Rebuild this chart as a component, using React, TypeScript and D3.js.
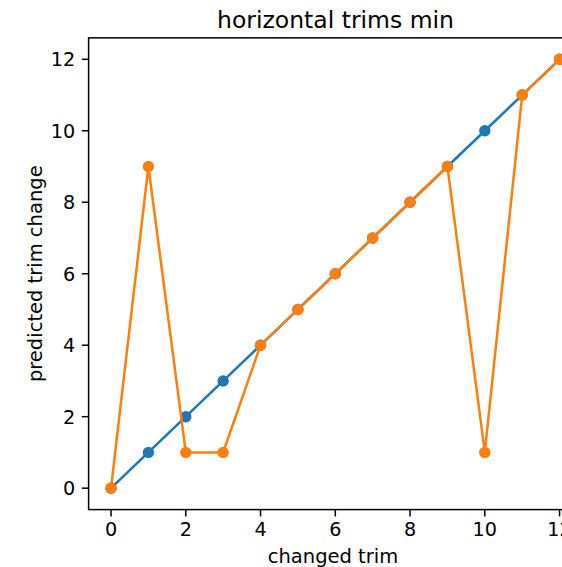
import React from "react";
import * as d3 from "d3";

const changedTrim = [0, 1, 2, 3, 4, 5, 6, 7, 8, 9, 10, 11, 12];
const idealValues = [0, 1, 2, 3, 4, 5, 6, 7, 8, 9, 10, 11, 12];
const predictedValues = [0, 9, 1, 1, 4, 5, 6, 7, 8, 9, 1, 11, 12];
const xTicks = [0, 2, 4, 6, 8, 10, 12];
const yTicks = [0, 2, 4, 6, 8, 10, 12];
const series = [
  { name: "ideal", values: idealValues, color: "#1f77b4" },
  { name: "predicted", values: predictedValues, color: "#ff7f0e" },
];

const W = 562;
const H = 567;
const left = 88.6;
const right = 582;
const top = 37.85;
const bottom = 509.6;

export default function App() {
  const x = d3.scaleLinear().domain([-0.6, 12.6]).range([left, right]);
  const y = d3.scaleLinear().domain([-0.6, 12.6]).range([bottom, top]);
  const line = d3
    .line<number>()
    .x((_, i) => x(changedTrim[i]))
    .y((d) => y(d));
  const font = "DejaVu Sans, sans-serif";
  const tickFs = 19.2;
  return (
    <svg
      width={W}
      height={H}
      style={{ position: "absolute", left: 0, top: 0, overflow: "hidden", background: "#fff" }}
      fontFamily={font}
    >
      <rect x={0} y={0} width={W} height={H} fill="#fff" />
      {series.map((s) => (
        <g key={s.name}>
          <path d={line(s.values) || ""} fill="none" stroke={s.color} strokeWidth={2.5} strokeLinejoin="round" />
          {s.values.map((v, i) => (
            <circle key={i} cx={x(changedTrim[i])} cy={y(v)} r={5.7} fill={s.color} />
          ))}
        </g>
      ))}
      <rect x={left} y={top} width={right - left} height={bottom - top} fill="none" stroke="#000" strokeWidth={1.5} />
      {xTicks.map((t) => (
        <g key={"x" + t}>
          <line x1={x(t)} x2={x(t)} y1={bottom} y2={bottom + 6.8} stroke="#000" strokeWidth={1.5} />
          <text x={x(t)} y={535.5} textAnchor="middle" fontSize={tickFs} fill="#000">
            {t}
          </text>
        </g>
      ))}
      {yTicks.map((t) => (
        <g key={"y" + t}>
          <line x1={left - 6.8} x2={left} y1={y(t)} y2={y(t)} stroke="#000" strokeWidth={1.5} />
          <text x={left - 13.4} y={y(t)} dy="0.36em" textAnchor="end" fontSize={tickFs} fill="#000">
            {t}
          </text>
        </g>
      ))}
      <text x={333} y={562.5} textAnchor="middle" fontSize={19.5} fill="#000">
        changed trim
      </text>
      <text
        transform={`translate(41.5, ${(top + bottom) / 2}) rotate(-90)`}
        textAnchor="middle"
        fontSize={19.5}
        fill="#000"
      >
        predicted trim change
      </text>
      <text x={335.5} y={28} textAnchor="middle" fontSize={23.5} fill="#000">
        horizontal trims min
      </text>
    </svg>
  );
}
